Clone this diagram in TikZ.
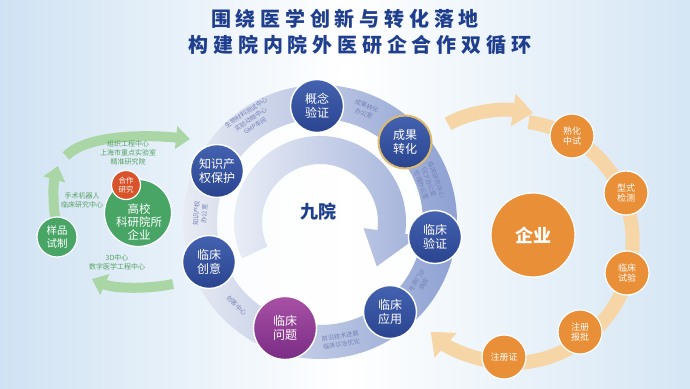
\documentclass[tikz,border=0pt]{standalone}
\usepackage{fontspec}
\setmainfont{Noto Sans CJK SC}
\newfontfamily\titlefont[LetterSpace=24]{Noto Sans CJK SC}
\usetikzlibrary{arrows.meta}
\definecolor{bgL}{HTML}{CFE2F3}
\definecolor{bgR}{HTML}{D5E6F4}
\definecolor{titleC}{HTML}{1F3F8E}
\definecolor{ringL}{HTML}{E8EBF3}
\definecolor{ringR}{HTML}{8EA1D3}
\definecolor{innerL}{HTML}{EEF1F8}
\definecolor{innerR}{HTML}{A3B2DA}
\definecolor{bTop}{HTML}{4462B0}
\definecolor{bBot}{HTML}{2A448F}
\definecolor{pTop}{HTML}{A850A6}
\definecolor{pBot}{HTML}{7A2C84}
\definecolor{goldC}{HTML}{DDBB6E}
\definecolor{lblC}{HTML}{7482B6}
\definecolor{gLbl}{HTML}{55A060}
\definecolor{gBand}{HTML}{A9D6A4}
\definecolor{greenN}{HTML}{48A566}
\definecolor{redN}{HTML}{D9532A}
\definecolor{oBand}{HTML}{F6D6A6}
\definecolor{orangeN}{HTML}{E98F37}
\begin{document}
\begin{tikzpicture}[x=1pt,y=1pt,
 bnode/.style={circle, minimum size=53pt, inner sep=0pt, top color=bTop, bottom color=bBot, draw=white, line width=1.4pt, text=white, font=\fontsize{12}{14}\selectfont, align=center},
 onode/.style={circle, minimum size=44pt, inner sep=0pt, fill=orangeN, draw=white, line width=1.2pt, text=white, font=\fontsize{9}{10.5}\selectfont, align=center},
 gnode/.style={circle, inner sep=0pt, fill=greenN, draw=white, line width=1.2pt, text=white, align=center},
 lbl/.style={text=lblC, font=\fontsize{6.2}{8}\selectfont, align=center, inner sep=0pt},
 glbl/.style={text=gLbl, font=\fontsize{7}{8.8}\selectfont, align=center, inner sep=0pt},
 garrow/.style={draw=gBand, line width=10pt, -{Triangle[width=22pt,length=14pt]}},
 oarrow/.style={draw=oBand, line width=14pt, -{Triangle[width=32pt,length=20pt]}},
]
\useasboundingbox (0,0) rectangle (690,388);
\shade[left color=bgL, right color=bgR, middle color=white] (0,0) rectangle (690,388);

% title
\node[font=\titlefont\bfseries\fontsize{20}{20}\selectfont, text=titleC] (t1) at (345,369.5) {围绕医学创新与转化落地};
\node[font=\titlefont\bfseries\fontsize{20}{20}\selectfont, text=titleC] (t2) at (360,343) {构建院内院外医研企合作双循环};

% blue ring
\coordinate (C) at (320,166);
\fill[white, opacity=0.8] (C) circle[radius=137];
\path[left color=ringL, right color=ringR, even odd rule] (C) circle[radius=137] (C) circle[radius=103];
\path[left color=innerL, right color=innerR]
  ([shift={(205:86)}]C) arc[start angle=205, end angle=-8, radius=86]
  -- ([shift={(-8:100)}]C) -- ([shift={(-38:72)}]C) -- ([shift={(-8:44)}]C)
  -- ([shift={(-8:58)}]C) arc[start angle=-8, end angle=205, radius=58] -- cycle;
\node[font=\bfseries\fontsize{18}{18}\selectfont, text=titleC] (jy) at (318,176) {九院};

% arc labels
\node[lbl, rotate=34] (l1) at ([shift={(124:124)}]C) {生物材料测试中心\\实验动物中心\\GMP车间};
\node[lbl, rotate=-22] (l2) at ([shift={(68:121)}]C) {成果转化\\办公室};
\node[lbl, rotate=-70] (l3) at ([shift={(20:116)}]C) {临床研究中心\\GCP办公室\\伦理办公室};
\node[lbl, rotate=59] (l4) at ([shift={(-31:117)}]C) {专病门诊\\病房};
\node[lbl, rotate=10] (l5) at ([shift={(-80:120)}]C) {前沿技术进展\\临床诊治优化};
\node[lbl, rotate=-45] (l6) at ([shift={(-135:118)}]C) {创客中心};
\node[lbl, rotate=86] (l7) at ([shift={(176:120)}]C) {知识产权\\办公室};

% blue nodes
\node[bnode] (gn) at (317,282) {概念\\验证};
\node[bnode, draw=goldC, line width=2pt] (cg) at (405,246) {成果\\转化};
\node[bnode] (yz) at (435,151) {临床\\验证};
\node[bnode] (yy) at (390,76) {临床\\应用};
\node[bnode, minimum size=63pt, top color=pTop, bottom color=pBot] (wt) at (285,60) {临床\\问题};
\node[bnode] (cy) at (209,126) {临床\\创意};
\node[bnode] (zs) at (217,217) {知识产\\权保护};

% green cycle
\draw[garrow] (173,104) .. controls (150,99) and (115,99) .. (92,109);
\draw[garrow] (55,171) .. controls (53,186) and (53,204) .. (58,222);
\draw[garrow] (66,232) .. controls (85,252) and (140,254) .. (190,249);
\node[glbl] (g1) at (128,235) {组织工程中心\\上海市重点实验室\\精准研究院};
\node[glbl] (g2) at (82,188) {手术机器人\\临床研究中心};
\node[glbl] (g3) at (117,126) {3D中心\\数字医学工程中心};
\node[gnode, minimum size=67pt] (gx) at (138,175) {};
\node[text=white, align=center, font=\fontsize{11.5}{13}\selectfont, inner sep=0pt] (gxt) at (139,166) {高校\\科研院所\\企业};
\node[gnode, minimum size=29pt, fill=redN, font=\fontsize{7.5}{9}\selectfont] (hz) at (126,203) {合作\\研究};
\node[gnode, minimum size=40pt, font=\fontsize{10.5}{12.5}\selectfont] (yp) at (57,151) {样品\\试制};

% orange cycle
\coordinate (O) at (512,148);
\draw[oarrow] (448,264) .. controls (468,276) and (500,280) .. (533,275);
\draw[oarrow] ([shift={(82:119)}]O) arc[start angle=82, end angle=-132, radius=121];
\node[onode, minimum size=84pt, font=\bfseries\fontsize{18}{18}\selectfont] (qy) at (533,153) {企业};
\node[onode] (sh) at (572,252) {熟化\\中试};
\node[onode] (xs) at (626,195) {型式\\检测};
\node[onode] (sy) at (627,115) {临床\\试验};
\node[onode] (bp) at (580,56) {注册\\报批};
\node[onode] (zc) at (504,31) {注册证};
\end{tikzpicture}
\end{document}
